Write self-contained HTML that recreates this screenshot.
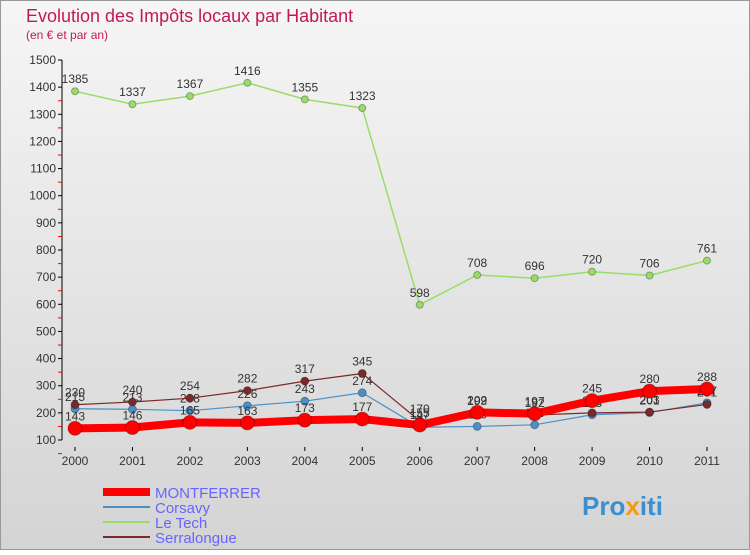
<!DOCTYPE html>
<html><head><meta charset="utf-8"><style>
body{margin:0;width:750px;height:550px;overflow:hidden;font-family:"Liberation Sans",sans-serif}
</style></head><body>
<svg id="c" width="750" height="550" xmlns="http://www.w3.org/2000/svg">
<defs><linearGradient id="bg" x1="0" y1="0" x2="0" y2="1"><stop offset="0" stop-color="#f6f6f6"/><stop offset="1" stop-color="#d4d4d4"/></linearGradient></defs>
<rect x="0.5" y="0.5" width="749" height="549" fill="url(#bg)" stroke="#999"/>
<text x="26" y="22" font-size="18" fill="#c2185b">Evolution des Impôts locaux par Habitant</text>
<text x="26" y="39" font-size="12" fill="#c2185b">(en € et par an)</text>
<g id="axes"></g><g id="series"></g>
<g>
<line x1="103" y1="492" x2="150" y2="492" stroke="#f00" stroke-width="8"/><text x="155" y="498" font-size="15" fill="#66f">MONTFERRER</text>
<line x1="103" y1="507" x2="150" y2="507" stroke="#4a90c8" stroke-width="2"/><text x="155" y="513" font-size="15" fill="#66f">Corsavy</text>
<line x1="103" y1="522" x2="150" y2="522" stroke="#99dd66" stroke-width="2"/><text x="155" y="528" font-size="15" fill="#66f">Le Tech</text>
<line x1="103" y1="537" x2="150" y2="537" stroke="#7a2a2a" stroke-width="2"/><text x="155" y="543" font-size="15" fill="#66f">Serralongue</text>
</g>
<text x="582" y="515" font-size="26" font-weight="bold" fill="#3a8fd0">Pro<tspan fill="#f39c12">x</tspan>iti</text>
</svg>
<script>
const years=["2000","2001","2002","2003","2004","2005","2006","2007","2008","2009","2010","2011"];
const montferrer=[143,146,165,163,173,177,155,202,197,245,280,288];
const corsavy=[215,213,208,226,243,274,147,150,156,193,201,237];
const letech=[1385,1337,1367,1416,1355,1323,598,708,696,720,706,761];
const serralongue=[230,240,254,282,317,345,170,199,192,200,203,231];
const yTicks=[100,200,300,400,500,600,700,800,900,1000,1100,1200,1300,1400,1500];
const NS="http://www.w3.org/2000/svg";
const X=i=>75+i*(707-75)/11, Y=v=>440-(v-100)*(380/1400);
function mk(t,a,p){const e=document.createElementNS(NS,t);for(const k in a)e.setAttribute(k,a[k]);p.appendChild(e);return e;}
const ax=document.getElementById('axes');
let l=mk('line',{x1:62,y1:60,x2:62,y2:440,stroke:'#000'},ax);


yTicks.forEach(v=>{const y=Y(v);
mk('line',{x1:58,y1:y,x2:62,y2:y,stroke:'#000'},ax);
mk('line',{x1:58,y1:y+13.6,x2:62,y2:y+13.6,stroke:v<1500?'#f00':'none'},ax);
const t=mk('text',{x:56,y:y+4,'font-size':12,fill:'#333','text-anchor':'end'},ax);t.textContent=v;

});
years.forEach((yr,i)=>{const x=X(i);
mk('line',{x1:x,y1:447,x2:x,y2:451,stroke:'#000'},ax);
const t=mk('text',{x:x,y:465,'font-size':12,fill:'#333','text-anchor':'middle'},ax);t.textContent=yr;

});
const sg=document.getElementById('series');
function draw(d,col,w,r,name){const g=mk('g',{},sg);


const p=mk('polyline',{points:d.map((v,i)=>X(i)+','+Y(v)).join(' '),fill:'none',stroke:col,'stroke-width':w,'stroke-linejoin':'round'},g);


d.forEach((v,i)=>{const c=mk('circle',{cx:X(i),cy:Y(v),r:r,fill:col,stroke:'rgba(0,0,0,0.3)'},g);


const t=mk('text',{x:X(i),y:Y(v)-8,'font-size':12,fill:'#333','text-anchor':'middle'},g);t.textContent=v;

});}
draw(letech,'#99dd66',1.5,3.5,'le-tech');
draw(corsavy,'#4a90c8',1.2,4,'corsavy');
draw(serralongue,'#7a2a2a',1.2,4,'serralongue');
draw(montferrer,'#f00',8,7,'montferrer');
</script>
</body></html>
